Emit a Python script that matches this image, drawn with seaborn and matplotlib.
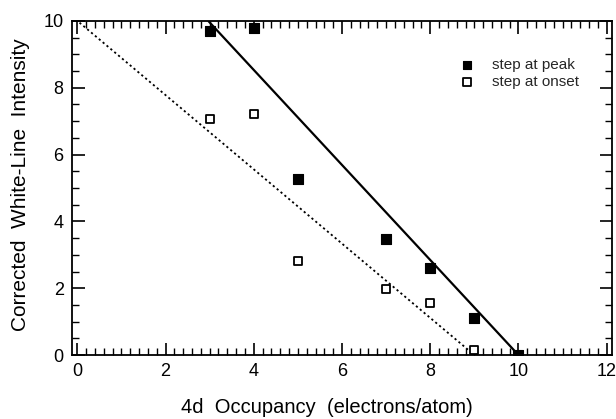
import matplotlib
matplotlib.use("Agg")
import matplotlib.pyplot as plt
import seaborn as sns
import pandas as pd
from matplotlib.ticker import MultipleLocator

# Data
occupancy = [3, 4, 5, 7, 8, 9, 10]
peak_intensity = [9.71, 9.78, 5.28, 3.48, 2.62, 1.10, 0.0]
onset_occupancy = [3, 4, 5, 7, 8, 9]
onset_intensity = [7.08, 7.21, 2.80, 1.97, 1.55, 0.15]
# fit lines (endpoints)
peak_fit_x = [2.97, 10.0]
peak_fit_y = [10.0, 0.0]
onset_fit_x = [0.05, 9.0]
onset_fit_y = [9.95, 0.0]

sns.set_theme(style="ticks")
plt.rcParams['font.family'] = ['Liberation Sans', 'DejaVu Sans']

fig = plt.figure(figsize=(6.16, 4.19), dpi=100)
ax = fig.add_axes([0.1169, 0.1527, 0.8766, 0.7972])

sns.lineplot(x=peak_fit_x, y=peak_fit_y, ax=ax, color='black', lw=1.6, solid_capstyle='butt')
sns.lineplot(x=onset_fit_x, y=onset_fit_y, ax=ax, color='black', lw=1.3, linestyle=(0, (1.2, 1.6)))

df_peak = pd.DataFrame({'x': occupancy, 'y': peak_intensity})
df_onset = pd.DataFrame({'x': onset_occupancy, 'y': onset_intensity})
sns.scatterplot(data=df_peak, x='x', y='y', ax=ax, marker='s', s=45, color='black',
                edgecolor='black', linewidth=0.8, label='step at peak', zorder=3)
sns.scatterplot(data=df_onset, x='x', y='y', ax=ax, marker='s', s=38, facecolor='white',
                edgecolor='black', linewidth=1.3, label='step at onset', zorder=3)

ax.set_xlim(-0.12, 12.12)
ax.set_ylim(0, 10)
ax.xaxis.set_major_locator(MultipleLocator(2))
ax.xaxis.set_minor_locator(MultipleLocator(0.2))
ax.yaxis.set_major_locator(MultipleLocator(2))
ax.yaxis.set_minor_locator(MultipleLocator(0.5))
ax.tick_params(which='both', direction='in', top=True, right=True, color='black', labelsize=13, labelcolor='black')
ax.tick_params(which='major', length=9, width=1.2, pad=6)
ax.tick_params(which='minor', length=5, width=1.0)
for s in ax.spines.values():
    s.set_linewidth(1.3)
    s.set_color('black')

ax.set_xlabel('4d  Occupancy  (electrons/atom)', fontsize=14.5, color='black')
ax.set_ylabel('Corrected  White-Line  Intensity', fontsize=15, color='black')
ax.xaxis.label.set_va('baseline')
ax.xaxis.set_label_coords(0.472, -0.174)
ax.yaxis.set_label_coords(-0.077, 0.509)

leg = ax.legend(loc='upper left', bbox_to_anchor=(0.7176, 0.89), frameon=False, fontsize=11,
                handletextpad=1.1, handlelength=1.0, borderpad=0, borderaxespad=0,
                labelspacing=0.2, markerscale=0.85)

fig.savefig('out.png', dpi=100)
